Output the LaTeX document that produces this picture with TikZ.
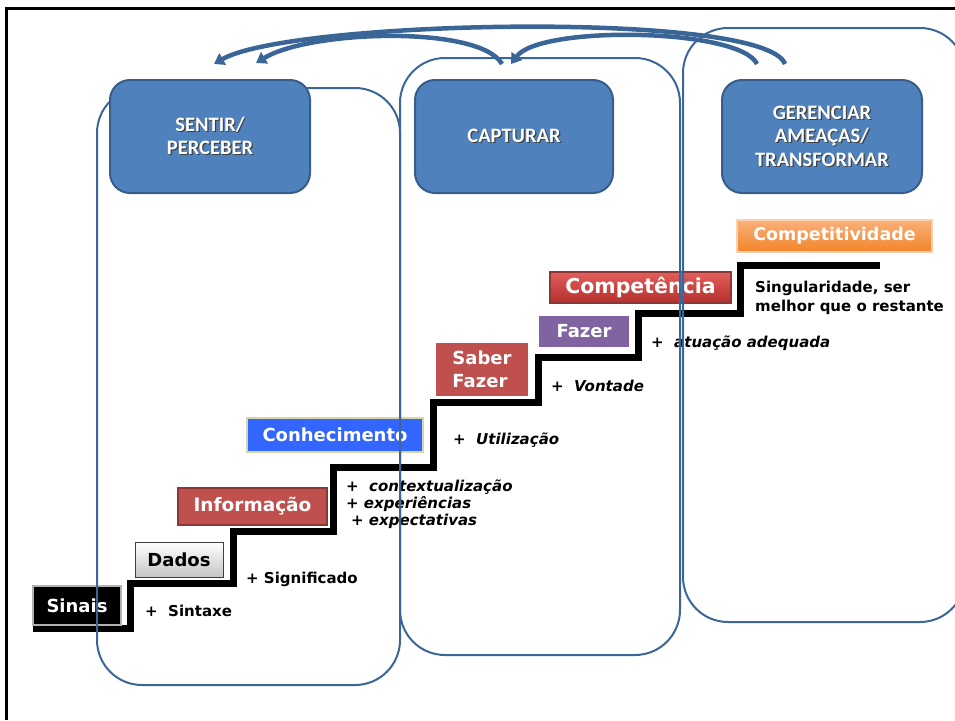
\documentclass[tikz,border=0pt]{standalone}
\usepackage{fontspec}
\setmainfont{DejaVu Sans}
\newfontfamily\hdrfont{Carlito}
\usepackage{xcolor}
\usepackage{tikz}
\usetikzlibrary{arrows.meta}
\definecolor{hdrblue}{HTML}{4F81BD}
\definecolor{hdrline}{HTML}{385D8A}
\definecolor{contline}{HTML}{3C6698}
\definecolor{loopblue}{HTML}{3A6597}
\definecolor{redbox}{HTML}{C0504D}
\definecolor{redline}{HTML}{8C3836}
\definecolor{knowblue}{HTML}{3366FF}
\definecolor{knowline}{HTML}{D6D6A8}
\definecolor{purplebox}{HTML}{8064A2}
\definecolor{compTop}{HTML}{E25E5A}
\definecolor{compBot}{HTML}{B5302D}
\definecolor{orTop}{HTML}{FAB07A}
\definecolor{orBot}{HTML}{F2842A}
\newcommand\hshadow[1]{\leavevmode\rlap{\raisebox{-1.2pt}{\hspace*{1.2pt}\textcolor{black!75}{#1}}}#1}

\begin{document}
\begin{tikzpicture}[x=1pt, y=-1pt,
  every node/.style={inner sep=0pt},
  header/.style={rectangle, rounded corners=20pt, draw=hdrline, line width=2pt, fill=hdrblue, minimum width=200pt, minimum height=113pt, text=white, align=center, font=\hdrfont\bfseries\fontsize{20.5}{23.5}\selectfont},
  container/.style={rectangle, rounded corners=45pt, draw=contline, line width=2pt},
  stepbox/.style={rectangle, line width=1.5pt, font=\bfseries\fontsize{18}{23}\selectfont},
  plus/.style={anchor=base west, align=left, font=\bfseries\fontsize{15}{17}\selectfont},
  plusit/.style={plus, font=\bfseries\itshape\fontsize{15}{17}\selectfont},
  feedback/.style={draw=loopblue, line width=4.5pt, -{Triangle[width=13pt,length=10pt]}}
]
  \useasboundingbox (0,0) rectangle (955,720);
  \draw[line width=3pt] (6,720) -- (6,8) -- (955,8);

  \draw[line width=7pt] (33,628) -| (130,583) -| (233,531) -| (333,467) -| (433,402) -| (538,357) -| (638,313) -| (740,265) -- (880,265);

  \node (sinais) [stepbox, fill=black, draw=gray!60, text=white, minimum width=88pt, minimum height=39pt] at (77,605.5) {Sinais};
  \node (dados) [stepbox, top color=white, bottom color=gray!45, draw=black!75, line width=1pt, minimum width=88pt, minimum height=35pt] at (179,559.5) {Dados};
  \node (informacao) [stepbox, fill=redbox, draw=redline, text=white, font=\bfseries\fontsize{18.5}{23}\selectfont, minimum width=149pt, minimum height=37pt] at (252.5,506.5) {Informação};
  \node (conhecimento) [stepbox, fill=knowblue, draw=knowline, text=white, minimum width=176pt, minimum height=34pt] at (335,435) {Conhecimento};
  \node (saberfazer) [stepbox, fill=redbox, draw=white, text=white, align=left, minimum width=94pt, minimum height=55pt] at (482,369.5) {Saber\\Fazer};
  \node (fazer) [stepbox, fill=purplebox, draw=white, text=white, minimum width=92pt, minimum height=33pt] at (584,331.5) {Fazer};
  \node (competencia) [stepbox, top color=compTop, bottom color=compBot, draw=redline, text=white, font=\bfseries\fontsize{20.5}{24}\selectfont, minimum width=181pt, minimum height=31pt] at (640.5,287.5) {Competência};
  \node (competitividade) [stepbox, top color=orTop, bottom color=orBot, draw=orTop!60!white, text=white, font=\bfseries\fontsize{17.5}{20}\selectfont, minimum width=195pt, minimum height=32pt] at (834.5,236) {Competitividade};

  \node (sintaxe) [plus] at (145,616) {+\ \ Sintaxe};
  \node (significado) [plus] at (246,583) {+ Significado};
  \node (contexto) [plusit] at (346,525) {+\ \ contextualização\\+ experiências\\\hspace*{5pt}+ expectativas};
  \node (utilizacao) [plusit] at (453,444) {+\ \ Utilização};
  \node (vontade) [plusit] at (551,391) {+\ \ Vontade};
  \node (atuacao) [plusit] at (651,347) {+\ \ atuação adequada};
  \node (singular) [plus, font=\bfseries\fontsize{15}{19}\selectfont] at (755,311) {Singularidade, ser\\melhor que o restante};

  \node (sentirarea) [container, minimum width=303pt, minimum height=597pt] at (248.5,386.5) {};
  \node (capturararea) [container, minimum width=280pt, minimum height=597pt] at (540,356.5) {};
  \node (gerenciararea) [container, minimum width=282pt, minimum height=594pt] at (824,325) {};

  \node (sentir) [header] at (210,136.5) {\hshadow{SENTIR/}\\\hshadow{PERCEBER}};
  \node (capturar) [header, minimum width=198pt] at (514,136.5) {\hshadow{CAPTURAR}};
  \node (gerenciar) [header] at (822,136.5) {\hshadow{GERENCIAR}\\\hshadow{AMEAÇAS/}\\\hshadow{TRANSFORMAR}};

  \coordinate (gerOuter) at (785,64);
  \coordinate (gerInner) at (757,64);
  \coordinate (capOut) at (502,64);
  \coordinate (capIn) at (511,64);
  \coordinate (senOuter) at (214,64);
  \coordinate (senInner) at (256,63);
  \draw[feedback] (gerOuter) .. controls (765,10) and (290,20) .. (senOuter);
  \draw[feedback] (gerInner) .. controls (740,28) and (540,25) .. (capIn);
  \draw[feedback] (capOut) .. controls (480,25) and (310,30) .. (senInner);
\end{tikzpicture}
\end{document}
